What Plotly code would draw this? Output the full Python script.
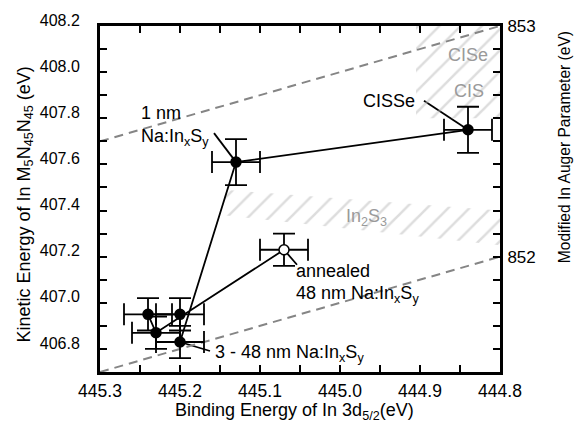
import plotly.graph_objects as go

# In 3d5/2 binding energy (eV) and In M5N45N45 kinetic energy (eV), in series order
binding_energy = [444.84, 445.13, 445.20, 445.20, 445.24, 445.23, 445.07]
kinetic_energy = [407.75, 407.61, 406.83, 406.95, 406.95, 406.87, 407.23]
binding_err = [0.03, 0.03, 0.03, 0.03, 0.03, 0.03, 0.03]
kinetic_err = [0.10, 0.10, 0.07, 0.07, 0.07, 0.07, 0.07]
open_marker = [False, False, False, False, False, False, True]

# Lines of constant modified Auger parameter (eV)
auger_levels = [853.0, 852.0]
be_span = [445.3, 444.8]

# Reference regions (binding energy, kinetic energy polygons)
cis_be = [444.905, 444.8, 444.8, 444.905]
cis_ke = [407.80, 407.80, 408.2, 408.2]
in2s3_be = [445.145, 444.8, 444.8, 445.145]
in2s3_ke = [407.49, 407.40, 407.25, 407.38]

x_range = [445.3, 444.8]
y_range = [406.7, 408.2]
auger_offset = 444.8  # modified Auger parameter read at the right edge

FONT = "Liberation Sans, Arial, sans-serif"
HATCH = "#bcbcbc"
GREY_TXT = "#9a9a9a"

fig = go.Figure()

for bx, ky in ((cis_be, cis_ke), (in2s3_be, in2s3_ke)):
    fig.add_trace(go.Scatter(
        x=bx, y=ky, mode="lines", fill="toself",
        fillcolor="rgba(0,0,0,0)",
        fillpattern=dict(shape="/", size=15, solidity=0.17,
                         fgcolor=HATCH, bgcolor="rgba(0,0,0,0)"),
        line=dict(width=0, color="rgba(0,0,0,0)"),
        hoverinfo="skip", showlegend=False))

for a in auger_levels:
    fig.add_trace(go.Scatter(
        x=be_span, y=[a - b for b in be_span], mode="lines",
        line=dict(color="#858585", width=2, dash="9px,6px"),
        hoverinfo="skip", showlegend=False))

# Auger-parameter levels at the right edge, carried on the right axis
fig.add_trace(go.Scatter(
    x=[be_span[1]] * len(auger_levels), y=auger_levels, yaxis="y2",
    mode="markers", marker=dict(size=1, opacity=0),
    hoverinfo="skip", showlegend=False))

fig.add_trace(go.Scatter(
    x=binding_energy, y=kinetic_energy, mode="lines+markers",
    line=dict(color="black", width=1.8),
    marker=dict(size=10,
                color=["white" if o else "black" for o in open_marker],
                line=dict(color="black", width=1.5)),
    error_x=dict(type="data", array=binding_err, color="black",
                 thickness=1.8, width=11),
    error_y=dict(type="data", array=kinetic_err, color="black",
                 thickness=1.8, width=11),
    showlegend=False))

# Leader lines from labels to their points (pixel offsets)
leaders = [(0, -44, 29), (1, -22, 29), (6, 13, -15), (2, 30, -9)]
shapes = []
for i, dx, dy in leaders:
    shapes.append(dict(
        type="line", xref="x", yref="y",
        xsizemode="pixel", ysizemode="pixel",
        xanchor=binding_energy[i], yanchor=kinetic_energy[i],
        x0=0, y0=0, x1=dx, y1=dy,
        line=dict(color="black", width=1.8), layer="below"))


def px_to_data(px, py):
    bx = x_range[0] + (px - 100) / 400 * (x_range[1] - x_range[0])
    ky = y_range[1] - (py - 20) / 352 * (y_range[1] - y_range[0])
    return bx, ky


def label(text, px, py, xanchor="left", color="black", size=18):
    bx, ky = px_to_data(px, py)
    return dict(x=bx, y=ky, xref="x", yref="y", text=text, showarrow=False,
                xanchor=xanchor, yanchor="middle",
                font=dict(family=FONT, size=size, color=color))


annotations = [
    label("1 nm", 139, 109),
    label("Na:In<sub>x</sub>S<sub>y</sub>", 139, 133),
    label("CISSe", 417, 96, xanchor="right"),
    label("annealed", 294, 269),
    label("48 nm Na:In<sub>x</sub>S<sub>y</sub>", 294, 293),
    label("3 - 48 nm Na:In<sub>x</sub>S<sub>y</sub>", 213, 353),
    label("CISe", 446, 50, color=GREY_TXT),
    label("CIS", 452, 86, color=GREY_TXT),
    label("In<sub>2</sub>S<sub>3</sub>", 344, 215, color=GREY_TXT),
    dict(x=-0.186, y=0.483, xref="paper", yref="paper", showarrow=False,
         text="Kinetic Energy of In M<sub>5</sub>N<sub>45</sub>N<sub>45</sub> (eV)",
         textangle=-90, xanchor="center", yanchor="middle",
         font=dict(family=FONT, size=18, color="black")),
    dict(x=1.162, y=0.649, xref="paper", yref="paper", showarrow=False,
         text="Modified In Auger Parameter (eV)",
         textangle=-90, xanchor="center", yanchor="middle",
         font=dict(family=FONT, size=15.6, color="black")),
    dict(x=0.485, y=-0.113, xref="paper", yref="paper", showarrow=False,
         text="Binding Energy of In 3d<sub>5/2</sub>(eV)",
         xanchor="center", yanchor="middle",
         font=dict(family=FONT, size=18, color="black")),
]

axis_common = dict(showline=True, linecolor="black", linewidth=3,
                   ticks="inside", ticklen=7, tickwidth=2, tickcolor="black",
                   showgrid=False, zeroline=False)

fig.update_layout(
    width=576, height=425,
    margin=dict(l=100, r=76, t=20, b=53),
    paper_bgcolor="white", plot_bgcolor="white",
    font=dict(family=FONT, color="black"),
    shapes=shapes, annotations=annotations,
    xaxis=dict(range=x_range, dtick=0.1, tick0=445.3, tickformat=".1f",
               mirror="ticks",
               minor=dict(dtick=0.05, ticks="inside", ticklen=7, tickwidth=2,
                          tickcolor="black"),
               tickfont=dict(size=17.5), ticklabelstandoff=1,
               **axis_common),
    yaxis=dict(range=y_range, dtick=0.2, tick0=406.8, tickformat=".1f",
               minor=dict(dtick=0.1, ticks="inside", ticklen=7, tickwidth=2,
                          tickcolor="black"),
               tickfont=dict(size=16), ticklabelstandoff=14,
               ticklabelshift=-6,
               **axis_common),
    yaxis2=dict(range=[y_range[0] + auger_offset, y_range[1] + auger_offset],
                overlaying="y", side="right", tickvals=[852, 853],
                minor=dict(dtick=0.1, ticks="inside", ticklen=7, tickwidth=2,
                           tickcolor="black"),
                tickfont=dict(size=17), ticklabelstandoff=1,
                **axis_common),
)

fig.write_html("out.html")
